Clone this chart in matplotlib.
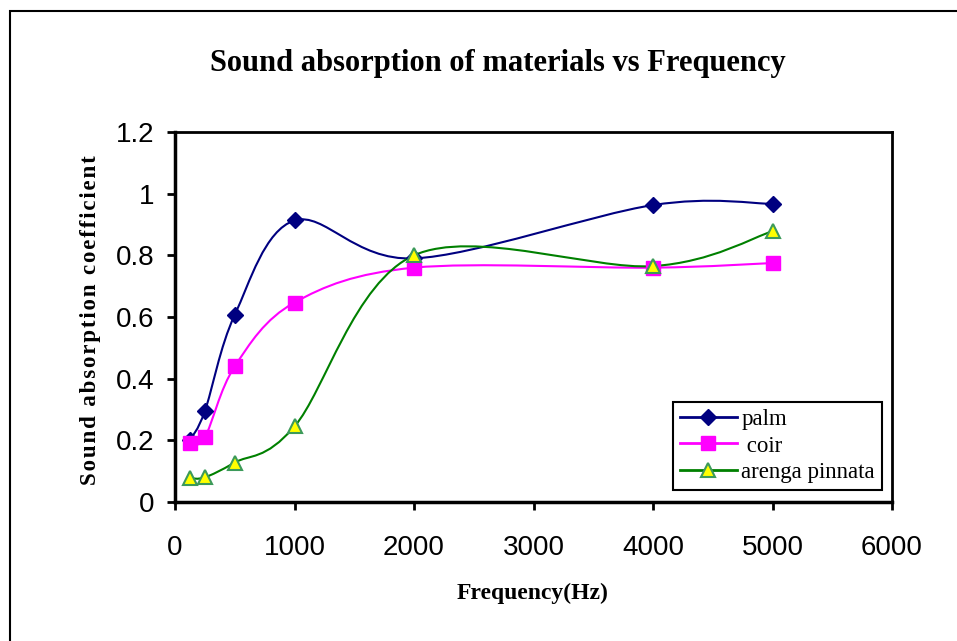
import numpy as np
from matplotlib import pyplot as plt
from matplotlib.path import Path
from matplotlib.patches import PathPatch, Rectangle
from matplotlib.lines import Line2D

freq = [125, 250, 500, 1000, 2000, 4000, 5000]
palm = [0.20, 0.295, 0.607, 0.913, 0.79, 0.963, 0.967]
coir = [0.19, 0.21, 0.44, 0.647, 0.76, 0.76, 0.775]
arenga = [0.077, 0.08, 0.128, 0.245, 0.80, 0.765, 0.878]

xticks = [0, 1000, 2000, 3000, 4000, 5000, 6000]
yticks = [0, 0.2, 0.4, 0.6, 0.8, 1, 1.2]
ytick_labels = ["0", "0.2", "0.4", "0.6", "0.8", "1", "1.2"]


def smooth_path(xs, ys):
    # excel style smoothed line: bezier segments through the points
    pts = np.column_stack([xs, ys]).astype(float)
    n = len(pts)
    verts = [pts[0]]
    codes = [Path.MOVETO]
    for i in range(n - 1):
        p0 = pts[i - 1] if i > 0 else pts[i]
        p1 = pts[i]
        p2 = pts[i + 1]
        p3 = pts[i + 2] if i + 2 < n else pts[i + 1]
        verts += [p1 + (p2 - p0) / 6, p2 - (p3 - p1) / 6, p2]
        codes += [Path.CURVE4] * 3
    return Path(verts, codes)


fig = plt.figure(figsize=(9.57, 6.41), dpi=100)
ax = fig.add_axes([175 / 957, 1 - 502 / 641, (892 - 175) / 957, (502 - 132) / 641])

series = [
    ("palm", palm, "#000080", dict(marker="D", markersize=8.5, markerfacecolor="#000080", markeredgecolor="#000080")),
    (" coir", coir, "#FF00FF", dict(marker="s", markersize=10, markerfacecolor="#FF00FF", markeredgecolor="#FF00FF")),
    ("arenga pinnata", arenga, "#008000", dict(marker="^", markersize=10, markerfacecolor="#FFFF00", markeredgecolor="#3C9A5A", markeredgewidth=1.5)),
]

handles = []
for name, vals, col, mk in series:
    ax.add_patch(PathPatch(smooth_path(freq, vals), facecolor="none", edgecolor=col, lw=1.5, zorder=2))
    ax.plot(freq, vals, linestyle="none", zorder=3, **mk)
    handles.append(Line2D([], [], color=col, lw=2, **mk))

ax.set_xlim(0, 6000)
ax.set_ylim(0, 1.2)
ax.set_xticks(xticks)
ax.set_xticklabels([str(t) for t in xticks])
ax.set_yticks(yticks)
ax.set_yticklabels(ytick_labels)
ax.tick_params(axis="x", direction="out", length=6, width=2, pad=18, labelsize=20)
ax.tick_params(axis="y", direction="out", length=6, width=2, pad=9, labelsize=20)
for lab in ax.get_xticklabels() + ax.get_yticklabels():
    lab.set_family("Liberation Sans")
for s in ["left", "bottom"]:
    ax.spines[s].set_linewidth(2.5)
for s in ["top", "right"]:
    ax.spines[s].set_linewidth(2)

leg = ax.legend(handles=handles, labels=[s[0] for s in series], loc="lower right",
                bbox_to_anchor=(0.986, 0.032), borderaxespad=0, frameon=True, fancybox=False,
                edgecolor="black", framealpha=1, handlelength=2.5, handletextpad=0.2,
                borderpad=0.3, labelspacing=0.25,
                prop={"family": "Liberation Serif", "size": 16.5})
leg.get_frame().set_linewidth(1.5)

fig.text(498 / 957, 1 - 63 / 641, "Sound absorption of materials vs Frequency", ha="center", va="center",
         family="Liberation Serif", fontweight="bold", fontsize=22)
fig.text(533 / 957, 1 - 593 / 641, "Frequency(Hz)", ha="center", va="center",
         family="Liberation Serif", fontweight="bold", fontsize=17)
ylab = "\u200a".join("Sound absorption coefficient")
fig.text(91 / 957, 1 - 320 / 641, ylab, ha="center", va="center", rotation=90,
         family=["Liberation Serif", "DejaVu Sans"], fontweight="bold", fontsize=16.5)

fig.patches.append(Rectangle((10 / 957, -0.1), 1.2, 1 - 11 / 641 + 0.1, transform=fig.transFigure,
                             fill=False, edgecolor="black", lw=1.5))

fig.savefig("out.png", dpi=100)
